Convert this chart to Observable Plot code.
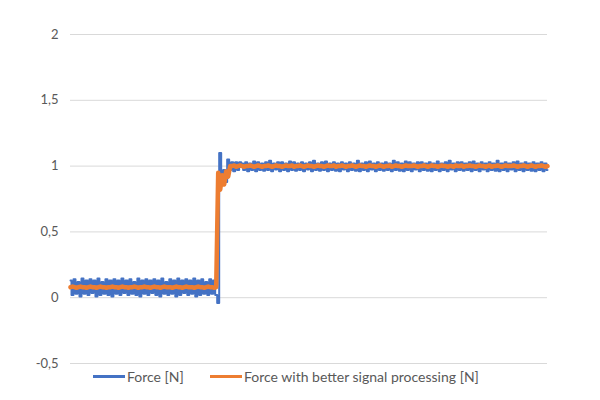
<!DOCTYPE html>
<html>
<head>
<meta charset="utf-8">
<script src="https://cdn.jsdelivr.net/npm/d3@7"></script>
<script src="https://cdn.jsdelivr.net/npm/@observablehq/plot@0.6"></script>
<style>
  html, body { margin: 0; padding: 0; background: #fff; }
  #wrap { position: relative; width: 600px; height: 400px; font-family: Lato, "Open Sans", sans-serif; }
  #legend { position: absolute; top: 368px; left: 0; width: 600px; height: 20px; color: #595959; font-size: 14px; }
  .item { position: absolute; top: 0; height: 16px; display: flex; align-items: center; white-space: nowrap; }
  .swatch { width: 32px; height: 3px; margin-right: 2px; }
</style>
</head>
<body>
<div id="wrap">
  <div id="chart"></div>
  <div id="legend"></div>
</div>
<script>
// Tick values on the y axis
const yTicks = [-0.5, 0, 0.5, 1, 1.5, 2];

// Series names and colours
const seriesNames = ["Force [N]", "Force with better signal processing [N]"];
const seriesColors = ["#4472C4", "#ED7D31"];

// Raw force signal (sample index = position in array)
const forceRaw = [
  0.13,0.02,0.14,0.03,0.12,0.01,0.145,0.03,0.13,0.02,
  0.14,0.035,0.13,0.01,0.145,0.02,0.12,0.03,0.14,0.02,
  0.13,0.01,0.14,0.03,0.13,0.02,0.145,0.035,0.13,0.02,
  0.14,0.03,0.12,0.02,0.145,0.01,0.13,0.03,0.14,0.02,
  0.13,0.035,0.14,0.02,0.13,0.01,0.145,0.03,0.12,0.02,
  0.14,0.03,0.13,0.01,0.145,0.02,0.13,0.035,0.14,0.02,
  0.13,0.03,0.145,0.01,0.13,0.02,0.14,0.03,0.12,0.02,
  0.14,0.03,0.13,0.02,
  -0.04,1.10,
  0.86,0.97,0.88,1.05,0.97,1.03,0.96,1.03,0.97,1.03,
  1.02,0.97,1.03,0.96,1.02,0.97,1.035,0.96,1.03,0.97,
  1.02,0.965,1.03,0.97,1.04,0.96,1.02,0.975,1.03,0.96,
  1.03,0.97,1.02,0.96,1.035,0.97,1.03,0.965,1.02,0.97,
  1.03,0.96,1.02,0.975,1.03,0.96,1.04,0.97,1.02,0.965,
  1.03,0.97,1.035,0.96,1.02,0.97,1.03,0.965,1.02,0.96,
  1.03,0.975,1.02,0.96,1.03,0.97,1.02,0.965,1.04,0.96,
  1.02,0.97,1.03,0.96,1.035,0.975,1.02,0.96,1.03,0.97,
  1.02,0.965,1.03,0.97,1.02,0.96,1.04,0.97,1.03,0.965,
  1.02,0.96,1.035,0.97,1.03,0.96,1.02,0.975,1.03,0.96,
  1.03,0.97,1.02,0.965,1.03,0.96,1.02,0.97,1.035,0.96,
  1.02,0.97,1.03,0.96,1.04,0.975,1.02,0.96,1.03,0.97,
  1.03,0.965,1.02,0.97,1.03,0.96,1.035,0.97,1.02,0.96,
  1.03,0.975,1.02,0.96,1.03,0.97,1.02,0.965,1.04,0.96,
  1.02,0.97,1.03,0.96,1.02,0.975,1.03,0.96,1.035,0.97,
  1.02,0.96,1.03,0.97,1.02,0.965,1.03,0.96,1.02,0.97,
  1.03,0.96,1.02,0.97
];

// Processed force signal (same sample index)
const forceProcessed = [
  0.08,0.085,0.08,0.075,0.08,0.085,0.08,0.08,0.075,0.08,
  0.085,0.08,0.08,0.075,0.08,0.085,0.08,0.08,0.075,0.08,
  0.08,0.085,0.08,0.08,0.075,0.08,0.085,0.08,0.08,0.075,
  0.08,0.08,0.085,0.08,0.075,0.08,0.08,0.085,0.08,0.08,
  0.075,0.08,0.085,0.08,0.08,0.075,0.08,0.085,0.08,0.08,
  0.08,0.075,0.08,0.085,0.08,0.08,0.075,0.08,0.085,0.08,
  0.08,0.08,0.075,0.08,0.085,0.08,0.08,0.075,0.08,0.085,
  0.08,0.08,0.075,0.08,
  0.95,0.82,0.93,0.86,0.96,0.92,1.00,
  1.00,1.005,0.995,1.00,1.005,1.00,0.995,1.00,1.00,1.005,
  1.00,0.995,1.00,1.005,1.00,0.995,1.00,1.00,1.005,1.00,
  0.995,1.00,1.005,1.00,1.00,0.995,1.00,1.005,1.00,1.00,
  1.005,0.995,1.00,1.00,1.005,1.00,0.995,1.00,1.005,1.00,
  1.00,0.995,1.00,1.005,1.00,1.00,0.995,1.00,1.005,1.00,
  1.00,1.005,0.995,1.00,1.00,1.005,1.00,0.995,1.00,1.00,
  1.005,1.00,0.995,1.00,1.005,1.00,1.00,0.995,1.00,1.005,
  1.00,1.00,0.995,1.00,1.005,1.00,0.995,1.00,1.00,1.005,
  0.995,1.00,1.005,1.00,1.00,0.995,1.00,1.005,1.00,1.00,
  1.00,1.005,1.00,0.995,1.00,1.00,1.005,1.00,0.995,1.00,
  1.005,1.00,1.00,0.995,1.00,1.005,1.00,1.00,0.995,1.00,
  1.00,0.995,1.005,1.00,1.00,1.005,0.995,1.00,1.00,1.005,
  1.00,1.00,0.995,1.00,1.005,1.00,1.00,0.995,1.00,1.005,
  0.995,1.00,1.00,1.005,1.00,0.995,1.00,1.005,1.00,1.00,
  1.00,1.005,1.00,0.995,1.00,1.00,1.005,1.00,0.995,1.00,
  1.005,1.00,0.995,1.00,1.00,1.005,1.00,0.995,1.00
];

const rawData = forceRaw.map((v, i) => ({i, v}));
const procData = forceProcessed.map((v, i) => ({i, v}));
const n = Math.max(forceRaw.length, forceProcessed.length) - 1;

const chart = Plot.plot({
  width: 600,
  height: 370,
  marginTop: 34,
  marginBottom: 7,
  marginLeft: 70,
  marginRight: 53,
  style: {fontFamily: "Lato, 'Open Sans', sans-serif", fontSize: "13px", color: "#595959", background: "#fff"},
  x: {domain: [0, n], axis: null},
  y: {domain: [-0.5, 2], ticks: yTicks},
  marks: [
    Plot.gridY(yTicks, {stroke: "#d9d9d9", strokeOpacity: 1, strokeWidth: 1}),
    Plot.axisY(yTicks, {tickSize: 0, tickPadding: 12, fill: "#595959", fontSize: 13, label: null,
      tickFormat: d => String(d).replace(".", ",")}),
    Plot.line(rawData, {x: "i", y: "v", stroke: seriesColors[0], strokeWidth: 2, curve: "step"}),
    Plot.line(procData, {x: "i", y: "v", stroke: seriesColors[1], strokeWidth: 4.5})
  ]
});
document.getElementById("chart").appendChild(chart);

const legend = document.getElementById("legend");
const lefts = [93, 210];
seriesNames.forEach((name, k) => {
  const item = document.createElement("div");
  item.className = "item";
  item.style.left = lefts[k] + "px";
  const sw = document.createElement("span");
  sw.className = "swatch";
  sw.style.background = seriesColors[k];
  const t = document.createElement("span");
  t.textContent = name;
  item.appendChild(sw);
  item.appendChild(t);
  legend.appendChild(item);
});
</script>
</body>
</html>
